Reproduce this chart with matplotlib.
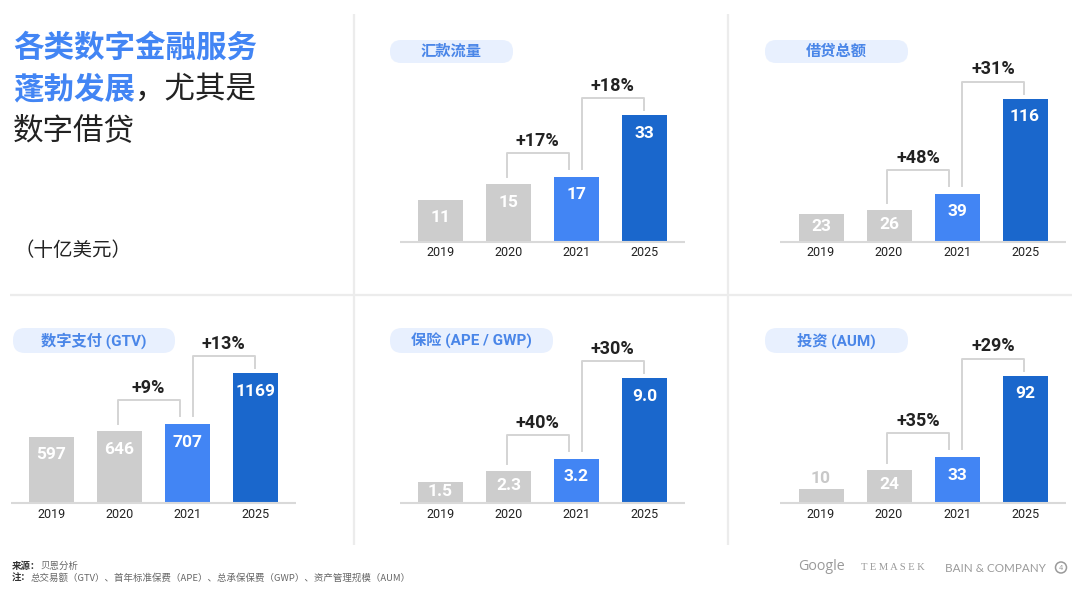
import matplotlib
matplotlib.use("Agg")
import matplotlib.pyplot as plt
from matplotlib.patches import FancyBboxPatch, Circle

# ---------------- data ----------------
years = ["2019", "2020", "2021", "2025"]

remittance = [11, 15, 17, 33]
lending = [23, 26, 39, 116]
payments = [597, 646, 707, 1169]
insurance = [1.5, 2.3, 3.2, 9.0]
investment = [10, 24, 33, 92]

remittance_growth = ["+17%", "+18%"]
lending_growth = ["+48%", "+31%"]
payments_growth = ["+9%", "+13%"]
insurance_growth = ["+40%", "+30%"]
investment_growth = ["+35%", "+29%"]

panel_titles = ["汇款流量", "借贷总额", "数字支付 (GTV)", "保险 (APE / GWP)", "投资 (AUM)"]

title_blue_1 = "各类数字金融服务"
title_blue_2 = "蓬勃发展"
title_dark_2 = "，尤其是"
title_dark_3 = "数字借贷"
unit_label = "（十亿美元）"
source_label = "来源："
source_text = "贝恩分析"
note_label = "注："
note_text = "总交易额（GTV）、首年标准保费（APE）、总承保保费（GWP）、资产管理规模（AUM）"

# ---------------- style ----------------
W, H = 1080, 608
CJK = "Noto Sans CJK SC"
NUM = ["Roboto", CJK, "DejaVu Sans"]
GRAY_BAR = "#cdcdcd"
BLUE_BAR = "#4285f4"
DARK_BAR = "#1a67cc"
BLUE_TXT = "#4285f4"
PILL = "#e8f0fe"
PILL_TXT = "#4a86e8"
LINE = "#d4d4d4"
DIV = "#ececec"
DARK = "#222222"
bar_colors = [GRAY_BAR, GRAY_BAR, BLUE_BAR, DARK_BAR]

fig = plt.figure(figsize=(W / 100, H / 100), dpi=100)
fig.patch.set_facecolor("white")

bg = fig.add_axes([0, 0, 1, 1], zorder=0)
bg.set_xlim(0, W)
bg.set_ylim(H, 0)
bg.axis("off")

# dividers
bg.plot([354, 354], [14, 545], color=DIV, lw=1.6, solid_capstyle="butt")
bg.plot([728, 728], [14, 545], color=DIV, lw=1.6, solid_capstyle="butt")
bg.plot([10, 1072], [295, 295], color=DIV, lw=1.6, solid_capstyle="butt")

# ---------------- panels ----------------
STEP = 68.0          # px between bar centres
AX_H = 190.0         # px height of plotting axes
BAR_W = 45.0 / STEP

panels = [
    # values, growth, title, first-centre px, baseline px, ymax, pill box (x0, y0, x1, y1), fmt
    (remittance, remittance_growth, panel_titles[0], 440.5, 242, 49.4, (390, 40, 513, 63), "{:.0f}"),
    (lending, lending_growth, panel_titles[1], 821.0, 242, 154.0, (765, 40, 908, 63), "{:.0f}"),
    (payments, payments_growth, panel_titles[2], 51.5, 503, 1709.0, (13, 328, 175, 353), "{:.0f}"),
    (insurance, insurance_growth, panel_titles[3], 440.5, 503, 13.7, (390, 328, 553, 353), "{:.1f}"),
    (investment, investment_growth, panel_titles[4], 821.0, 503, 137.6, (765, 328, 908, 353), "{:.0f}"),
]

for values, growth, ptitle, c0, base, ymax, pill, fmt in panels:
    # pill title
    x0, y0, x1, y1 = pill
    ph = y1 - y0
    bg.add_patch(FancyBboxPatch((x0, y0), x1 - x0, ph,
                                boxstyle=f"round,pad=0,rounding_size={ph/2 - 0.5}",
                                fc=PILL, ec="none"))
    bg.text((x0 + x1) / 2, (y0 + y1) / 2 + 0.5, ptitle, ha="center", va="center",
            color=PILL_TXT, fontsize=11, fontweight="bold", family=NUM)

    left = c0 - 0.6 * STEP
    ax = fig.add_axes([left / W, (H - base) / H, 4.2 * STEP / W, AX_H / H], zorder=1)
    ax.set_xlim(-0.6, 3.6)
    ax.set_ylim(0, ymax)
    ax.axis("off")
    ax.patch.set_alpha(0)
    ppu = AX_H / ymax   # px per data unit
    px = lambda p: p / ppu

    xs = list(range(len(values)))
    ax.bar(xs, values, width=BAR_W, color=bar_colors, zorder=2)
    ax.plot([-0.6, 3.6], [0, 0], color="#d9d9d9", lw=1.5, zorder=3, clip_on=False,
            solid_capstyle="butt")

    for i, (v, yr) in enumerate(zip(values, years)):
        hpx = v * ppu
        lab = fmt.format(v)
        if hpx < 18:
            ax.text(i, v + px(11), lab, ha="center", va="center", color="#c8c8c8",
                    fontsize=12.5, fontweight="bold", family=NUM, zorder=4)
        else:
            off = min(18, hpx * 0.45)
            ax.text(i, v - px(off), lab, ha="center", va="center", color="white",
                    fontsize=12.5, fontweight="bold", family=NUM, zorder=4)
        ax.text(i, -px(11), yr, ha="center", va="center", color=DARK,
                fontsize=9, family=NUM, clip_on=False)

    # brackets
    d = 1.0 / STEP
    t1 = values[1]
    t2 = values[2]
    t3 = values[3]
    top1 = max(t1, t2) + px(24)
    lx1, rx1 = 1 - 2 * d, 2 - 8 * d
    r_bot = t2 + px(8)
    ax.plot([lx1, lx1, rx1, rx1], [t1 + px(7), top1, top1, r_bot],
            color=LINE, lw=1.4, zorder=1, clip_on=False)
    ax.text((lx1 + rx1) / 2, top1 + px(12), growth[0], ha="center", va="center",
            color=DARK, fontsize=13, fontweight="bold", family=NUM, clip_on=False)
    top2 = t3 + px(17)
    lx2, rx2 = 2 + 5 * d, 3 - 1 * d
    ax.plot([lx2, lx2, rx2, rx2], [r_bot, top2, top2, t3 + px(5)],
            color=LINE, lw=1.4, zorder=1, clip_on=False)
    ax.text((lx2 + rx2) / 2, top2 + px(12.5), growth[1], ha="center", va="center",
            color=DARK, fontsize=13, fontweight="bold", family=NUM, clip_on=False)

# ---------------- title ----------------
fig.canvas.draw()
renderer = fig.canvas.get_renderer()
bg.text(13, 47.5, title_blue_1, ha="left", va="center", color=BLUE_TXT,
        fontsize=22, fontweight="bold", family=CJK)
t = bg.text(13, 89, title_blue_2, ha="left", va="center", color=BLUE_TXT,
            fontsize=22, fontweight="bold", family=CJK)
bb = t.get_window_extent(renderer=renderer)
bg.text(bb.x1, 89, title_dark_2, ha="left", va="center", color=DARK,
        fontsize=22, family=CJK)
bg.text(13, 131, title_dark_3, ha="left", va="center", color=DARK,
        fontsize=22, family=CJK)
bg.text(15, 251, unit_label, ha="left", va="center", color=DARK,
        fontsize=14, family=CJK)

# ---------------- footer ----------------
s = bg.text(12, 566, source_label, ha="left", va="center", color="#333333",
            fontsize=6.8, fontweight="bold", family=CJK)
sb = s.get_window_extent(renderer=renderer)
bg.text(sb.x1, 566, source_text, ha="left", va="center", color="#666666",
        fontsize=6.8, family=CJK)
n = bg.text(12, 578, note_label, ha="left", va="center", color="#333333",
            fontsize=6.8, fontweight="bold", family=CJK)
nb = n.get_window_extent(renderer=renderer)
bg.text(nb.x1, 578, note_text, ha="left", va="center", color="#666666",
        fontsize=6.8, family=CJK)

LOGO = "#9a9a9a"
bg.text(798, 567, "Google", ha="left", va="center", color=LOGO, fontsize=10.3,
        family="Open Sans")
bg.text(861, 568, "T E M A S E K", ha="left", va="center", color=LOGO,
        fontsize=7.6, family="Liberation Serif")
bg.text(945, 568, "BAIN & COMPANY", ha="left", va="center", color=LOGO,
        fontsize=8.4, family="Lato")
bg.add_patch(Circle((1061, 567.5), 5.5, fc="none", ec=LOGO, lw=1.1))
bg.text(1061, 567.5, "4", ha="center", va="center", color=LOGO, fontsize=5,
        family="DejaVu Sans")

fig.savefig("out.png", dpi=100, facecolor="white")
